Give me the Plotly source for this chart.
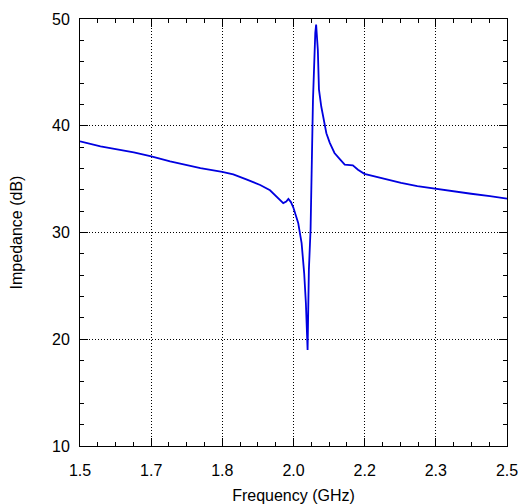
import plotly.graph_objects as go

freq_ghz = [1.500, 1.548, 1.626, 1.667, 1.711, 1.782, 1.833, 1.859, 1.891, 1.922,
            1.945, 1.962, 1.976, 1.983, 1.988, 1.994, 2.000, 2.011, 2.019, 2.025,
            2.029, 2.033, 2.036, 2.040, 2.043, 2.044, 2.0456, 2.051, 2.053, 2.057,
            2.0596, 2.065, 2.077, 2.085, 2.096, 2.110, 2.120, 2.139, 2.151, 2.166,
            2.229, 2.252, 2.290, 2.330, 2.370, 2.416, 2.460, 2.500]
impedance_db = [38.53, 38.07, 37.50, 37.13, 36.66, 36.04, 35.67, 35.45, 34.95, 34.45,
                33.95, 33.30, 32.76, 32.90, 33.15, 32.85, 32.30, 30.90, 29.00, 26.20,
                23.40, 19.00, 26.50, 30.30, 35.90, 39.30, 42.40, 48.70, 49.47, 47.10,
                43.40, 41.80, 39.30, 38.40, 37.45, 36.80, 36.35, 36.29, 35.88, 35.50,
                34.85, 34.64, 34.35, 34.10, 33.90, 33.63, 33.40, 33.17]

x_tickvals = [1.5 + k / 6 for k in range(7)]
x_ticktext = ["1.5", "1.7", "1.8", "2.0", "2.2", "2.3", "2.5"]
x_minorvals = [1.5 + k / 24 for k in range(25)]
y_tickvals = [10, 20, 30, 40, 50]
y_ticktext = ["10", "20", "30", "40", "50"]
y_minorvals = list(range(10, 51, 2))

font_family = "Liberation Sans, Arial, sans-serif"

fig = go.Figure()
fig.add_trace(go.Scatter(
    x=freq_ghz, y=impedance_db, mode="lines",
    line=dict(color="#0000e0", width=1.8),
    showlegend=False,
))

axis_common = dict(
    showline=True, linecolor="black", linewidth=1, mirror="allticks",
    ticks="inside", ticklen=8, tickcolor="black", tickwidth=1,
    showgrid=True, gridcolor="black", gridwidth=1, griddash="1px,2px",
    zeroline=False, automargin=False, ticklabeloverflow="allow",
    tickfont=dict(family=font_family, size=16, color="black"),
    title_font=dict(family=font_family, size=16, color="black"),
)

fig.update_xaxes(
    range=[1.5, 2.5], tickmode="array", tickvals=x_tickvals, ticktext=x_ticktext,
    minor=dict(tickmode="array", tickvals=x_minorvals, ticks="inside", ticklen=4,
               tickcolor="black", showgrid=False),
    title=dict(text="Frequency (GHz)", standoff=11),
    ticklabelstandoff=10,
    **axis_common,
)
fig.update_yaxes(
    range=[10, 50], tickmode="array", tickvals=y_tickvals, ticktext=y_ticktext,
    minor=dict(tickmode="array", tickvals=y_minorvals, ticks="inside", ticklen=4,
               tickcolor="black", showgrid=False),
    title=dict(text="Impedance (dB)", standoff=25),
    ticklabelstandoff=6,
    **axis_common,
)

fig.update_layout(
    width=518, height=504,
    margin=dict(l=80, r=11, t=19, b=58),
    plot_bgcolor="white", paper_bgcolor="white",
    font=dict(family=font_family, size=16, color="black"),
)

fig.write_html(
    "out.html",
    config={"displayModeBar": False},
    post_script="document.body.style.margin='0';document.body.style.overflow='hidden';",
)
